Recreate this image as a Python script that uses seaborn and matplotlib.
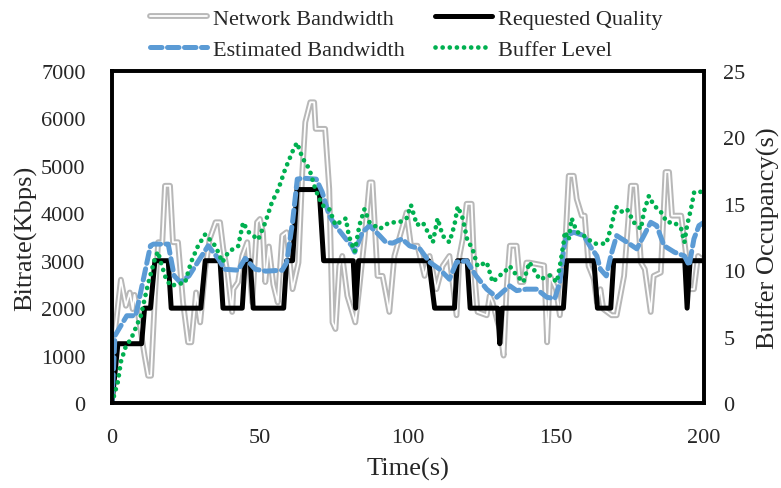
import matplotlib
matplotlib.use("Agg")
import matplotlib.pyplot as plt
import matplotlib.patheffects as pe
import seaborn as sns
import pandas as pd

# ---------------- data ----------------
net_t = [0, 1, 3, 4.7, 6, 7, 7.6, 9, 11, 12.2, 13.2, 14.5, 15.6, 17, 17.9, 19.6, 20.6, 22.3,
         24, 25.7, 26.8, 28.4, 29.8, 31.5, 33, 35, 36.5, 37.6, 39, 40.6, 41, 42.6, 44, 45.7,
         47.4, 49, 50, 51, 51.8, 53, 54.5, 56, 57.5, 59, 61, 63, 64.3, 65.3, 67, 68.3, 68.8,
         72, 73.4, 74.5, 75.5, 76.8, 77.8, 79.5, 82.2, 83.5, 85.3, 87, 88, 89.7, 91.4, 93.7,
         95.4, 97, 99.5, 101, 103.2, 105.6, 107.3, 109.6, 111.7, 114, 116.4, 117.4, 118.5,
         119.8, 121.5, 122.5, 123.5, 126.6, 127.6, 128.6, 130.3, 131, 132.3, 133.3, 134.4,
         136.7, 137.8, 139, 140, 141, 146, 147, 148, 150, 151.3, 152.6, 154.3, 156, 157,
         158.7, 159.7, 161, 162.8, 163.8, 165, 166, 168.8, 170.5, 173, 175.3, 177, 178.7,
         180, 182, 183, 185.4, 187, 188.2, 189.2, 192.3, 194, 195, 196.6, 198, 200]
net_bw = [1400, 1500, 2600, 2050, 2330, 1980, 2280, 1800, 1000, 575, 575, 2260, 3390, 3390,
          4580, 4580, 3390, 3390, 2120, 1280, 1280, 2330, 1700, 2820, 3460, 3810, 3810, 3250,
          2760, 1920, 2400, 2550, 3100, 3390, 2120, 3810, 3880, 3600, 2550, 3300, 2500, 2120,
          3530, 3600, 2400, 2960, 4870, 5920, 6340, 6340, 5780, 5780, 4510, 1700, 1560, 2890,
          3100, 2260, 1700, 2400, 3460, 4650, 4650, 2680, 2680, 1920, 3100, 3460, 4020, 3316,
          3316, 2680, 3100, 2400, 2890, 3100, 1850, 3100, 3460, 4200, 4200, 2680, 1920, 1850,
          2260, 2120, 1700, 1560, 1000, 2400, 3316, 3316, 2550, 2550, 2960, 2960, 2900, 1280,
          2680, 2400, 1850, 2680, 4790, 4790, 4300, 3950, 3950, 2890, 2610, 2120, 2400, 1980,
          1850, 1850, 2680, 4580, 4580, 2960, 2820, 1920, 2680, 2750, 4870, 4870, 3950, 3950,
          3100, 2400, 2400, 3100, 3000]

req_t = [0, 2, 10, 11, 13, 14.5, 19, 20, 30, 31.5, 36.5, 37.5, 44, 45, 46.7, 47.7, 58, 59, 61,
         62.5, 70, 71.5, 81.5, 82.3, 83.3, 107, 109, 115.7, 116.7, 120, 121, 130.3, 131, 131.8,
         152.5, 153.6, 162.8, 164, 168.5, 169.5, 193.5, 194.3, 195.3, 200]
req_q = [0, 1250, 1250, 2000, 2000, 3000, 3000, 2000, 2000, 3000, 3000, 2000, 2000, 3000, 3000,
         2000, 2000, 3000, 3000, 4500, 4500, 3000, 3000, 2000, 3000, 3000, 2000, 2000, 3000, 3000,
         2000, 2000, 1250, 2000, 2000, 3000, 3000, 2000, 2000, 3000, 3000, 2000, 3000, 3000]

est_t = [0, 1, 5, 8, 13, 14, 19, 21, 23, 26, 32.5, 36, 38, 42.6, 45, 48.4, 52, 57.5, 59, 61,
         62.6, 64.5, 69, 71, 73.4, 75.5, 79, 81, 82, 84.6, 87, 90.4, 92.5, 94.8, 98, 100.5, 104,
         107.3, 110.7, 114, 116.4, 119.8, 123, 126.6, 130, 132.3, 134.4, 136.7, 140, 143.5,
         146.9, 149.6, 151.3, 152.6, 153.6, 156, 159.4, 161.4, 163.8, 165, 167, 168.5, 170.5,
         174, 177.3, 179.7, 182, 184, 186.5, 190, 193.4, 195, 196.6, 198.3, 200]
est_bw = [0, 1420, 1840, 1840, 3316, 3350, 3350, 2680, 2550, 2680, 3316, 3035, 2820, 2800, 3050,
          2820, 2780, 2800, 2960, 3815, 4720, 4740, 4720, 4450, 3950, 3740, 3460, 3316, 3180,
          3600, 3740, 3530, 3390, 3370, 3460, 3316, 3250, 2970, 2820, 2610, 2970, 3000, 2680,
          2400, 2230, 2360, 2470, 2370, 2400, 2400, 2230, 2200, 2550, 3250, 3530, 3600, 3530,
          3316, 3100, 2820, 2680, 3100, 3530, 3390, 3250, 3530, 3810, 3740, 3316, 3180, 3100,
          2900, 3460, 3740, 3810]

buf_t = [0, 2, 3, 4.7, 6.4, 9.8, 12, 14.4, 15.5, 16.5, 18.3, 20, 22.3, 24.6, 26.7, 29, 31.5,
         35, 37.3, 39.4, 42.6, 44.3, 46, 49.4, 51.8, 54, 56.2, 58.5, 61.3, 62.5, 63.6, 64.5,
         66.7, 68.7, 71, 73.4, 75.5, 79, 80, 82, 83.6, 85.3, 87, 90.4, 93.7, 97, 99.5, 101,
         103, 105, 107.3, 108.4, 110, 111.7, 114, 115.7, 116.8, 118.5, 120, 121.8, 123.5,
         126.6, 128.6, 131, 132.3, 134.4, 136.7, 139, 141, 142.4, 144.5, 147.9, 150.3, 151.3,
         152.6, 153, 154.3, 155.3, 157, 159.4, 162.8, 167, 168.8, 170.2, 172, 174, 176.3,
         178.7, 179.7, 181.4, 183, 185.4, 187.5, 190, 192.3, 193.4, 194.3, 195.6, 196.7, 199]
buf_lv = [0, 1.6, 3.1, 4.3, 4.8, 6.6, 8.8, 10.8, 11.4, 10.6, 9.3, 8.8, 9.0, 9.0, 10.6, 11.8,
          12.7, 11.8, 10.6, 11.4, 11.8, 13.6, 12.9, 12.3, 13.6, 15.1, 16.1, 17.6, 19.1, 19.6,
          18.9, 18.4, 17.6, 16.1, 14.9, 14.6, 13.4, 13.9, 12.6, 11.4, 13.4, 14.6, 13.6, 13.1,
          13.6, 13.6, 13.9, 14.9, 13.4, 13.6, 12.6, 12.1, 13.9, 12.6, 12.1, 13.4, 14.8, 13.9,
          12.3, 11.6, 10.3, 10.6, 9.1, 9.6, 9.8, 10.3, 9.6, 9.1, 10.6, 10.1, 9.3, 9.6, 9.1,
          10.3, 12.1, 12.9, 12.3, 13.9, 12.9, 12.6, 12.0, 12.0, 13.4, 14.8, 14.4, 14.6, 13.6,
          13.1, 14.4, 15.6, 14.9, 14.4, 13.6, 13.6, 13.1, 12.1, 13.4, 14.6, 15.9, 15.9]

x_ticks = [0, 50, 100, 150, 200]
left_ticks = [0, 1000, 2000, 3000, 4000, 5000, 6000, 7000]
right_ticks = [0, 5, 10, 15, 20, 25]

net_df = pd.DataFrame({"t": net_t, "v": net_bw})
req_df = pd.DataFrame({"t": req_t, "v": req_q})
est_df = pd.DataFrame({"t": est_t, "v": est_bw})
buf_df = pd.DataFrame({"t": buf_t, "v": buf_lv})

# ---------------- style ----------------
sns.set_style("white")
plt.rcParams["font.family"] = ["Liberation Serif", "DejaVu Serif"]

fig = plt.figure(figsize=(7.81, 4.89), dpi=100)
ax = fig.add_axes([0.1434, 0.1738, 0.9014 - 0.1434, 0.8528 - 0.1738])
ax2 = ax.twinx()

sns.lineplot(data=net_df, x="t", y="v", ax=ax, color="white", linewidth=1.3,
             estimator=None, sort=False, legend=False)
l_net = ax.lines[-1]
l_net.set_path_effects([pe.Stroke(linewidth=4.2, foreground="#B8B8B8"), pe.Normal()])

sns.lineplot(data=req_df, x="t", y="v", ax=ax, color="black", linewidth=3.6,
             estimator=None, sort=False, legend=False)
l_req = ax.lines[-1]

sns.lineplot(data=est_df, x="t", y="v", ax=ax, color="#5B9BD5", linewidth=3.6,
             estimator=None, sort=False, legend=False)
l_est = ax.lines[-1]
l_est.set_dashes((2.3, 1.1))
l_est.set_dash_capstyle("round")

sns.lineplot(data=buf_df, x="t", y="v", ax=ax2, color="#00B050", linewidth=3.4,
             estimator=None, sort=False, legend=False)
l_buf = ax2.lines[-1]
l_buf.set_linestyle((0, (0.01, 1.5)))
l_buf.set_dash_capstyle("round")

ax.set_xlim(0, 200)
ax.set_ylim(0, 7000)
ax2.set_ylim(0, 25)
ax.set_xticks(x_ticks)
ax.set_yticks(left_ticks)
ax2.set_yticks(right_ticks)

ax.set_xlabel("Time(s)", fontsize=19, labelpad=7)
ax.set_ylabel("Bitrate(Kbps)", fontsize=19, labelpad=3)
ax2.set_ylabel("Buffer Occupancy(s)", fontsize=19, labelpad=8)

ax.tick_params(axis="both", length=0, labelsize=16)
ax.tick_params(axis="y", pad=19)
ax.tick_params(axis="x", pad=18)
ax2.tick_params(axis="y", length=0, labelsize=16, pad=14)

for a in (ax, ax2):
    for s in a.spines.values():
        s.set_color("black")
        s.set_linewidth(2.6)
ax.grid(False)
ax2.grid(False)

handles = [l_net, l_est, l_req, l_buf]
labels = ["Network Bandwidth", "Estimated Bandwidth", "Requested Quality", "Buffer Level"]
fig.legend(handles, labels, ncol=2, loc="upper center", bbox_to_anchor=(0.5205, 1.008),
           frameon=False, fontsize=16, handlelength=2.55, handletextpad=0.3,
           columnspacing=1.35, labelspacing=0.45, borderaxespad=0.2)

fig.savefig("out.png", dpi=100)
